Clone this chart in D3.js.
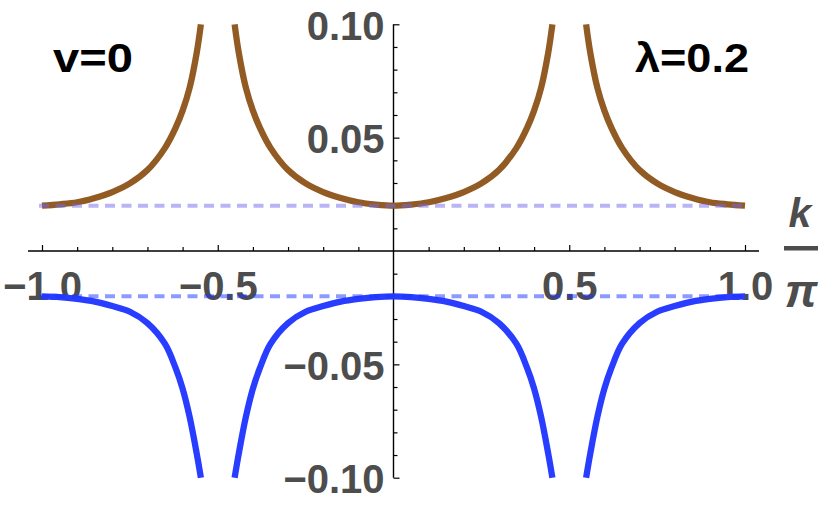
<!DOCTYPE html>
<html>
<head>
<meta charset="utf-8">
<script src="https://cdn.jsdelivr.net/npm/d3@7"></script>
<style>
  body { margin: 0; background: #fff; }
  text { font-family: "Liberation Sans", Arial, sans-serif; font-weight: bold; }
</style>
</head>
<body>
<div id="chart"></div>
<script>
// k/pi sample positions (null marks where the band leaves the plot range)
const kValues = [-1, -0.95, -0.9, -0.85, -0.8, -0.75, -0.7, -0.65, -0.62, -0.6, -0.58, -0.56, -0.548, -0.5,
    -0.452, -0.44, -0.42, -0.4, -0.38, -0.35, -0.3, -0.25, -0.2, -0.15, -0.1, -0.05, 0,
    0.05, 0.1, 0.15, 0.2, 0.25, 0.3, 0.35, 0.38, 0.4, 0.42, 0.44, 0.452, 0.5,
    0.548, 0.56, 0.58, 0.6, 0.62, 0.65, 0.7, 0.75, 0.8, 0.85, 0.9, 0.95, 1];

const upperBand = [0.0200, 0.0206, 0.0215, 0.0234, 0.0260, 0.0298, 0.0357, 0.0455, 0.0543, 0.0619, 0.0720, 0.0873, 0.1000, null,
    0.1000, 0.0873, 0.0720, 0.0619, 0.0543, 0.0455, 0.0357, 0.0298, 0.0260, 0.0234, 0.0215, 0.0205, 0.0200,
    0.0205, 0.0215, 0.0234, 0.0260, 0.0298, 0.0357, 0.0455, 0.0543, 0.0619, 0.0720, 0.0873, 0.1000, null,
    0.1000, 0.0873, 0.0720, 0.0619, 0.0543, 0.0455, 0.0357, 0.0298, 0.0260, 0.0234, 0.0215, 0.0206, 0.0200];

const lowerBand = [-0.0200, -0.0203, -0.0211, -0.0223, -0.0243, -0.0268, -0.0318, -0.0410, -0.0516, -0.0607, -0.0732, -0.0892, -0.1000, null,
    -0.1000, -0.0892, -0.0732, -0.0607, -0.0516, -0.0410, -0.0318, -0.0268, -0.0243, -0.0223, -0.0211, -0.0203, -0.0200,
    -0.0203, -0.0211, -0.0223, -0.0243, -0.0268, -0.0318, -0.0410, -0.0516, -0.0607, -0.0732, -0.0892, -0.1000, null,
    -0.1000, -0.0892, -0.0732, -0.0607, -0.0516, -0.0410, -0.0318, -0.0268, -0.0243, -0.0223, -0.0211, -0.0203, -0.0200];

// dashed gap-edge levels
const gapLevels = [0.02, -0.02];

// ticks
const xMajorTicks = [-1, -0.5, 0.5, 1];
const xMinorTicks = [-0.9, -0.8, -0.7, -0.6, -0.4, -0.3, -0.2, -0.1, 0.1, 0.2, 0.3, 0.4, 0.6, 0.7, 0.8, 0.9];
const yMajorTicks = [-0.1, -0.05, 0.05, 0.1];
const yMinorTicks = [-0.09, -0.08, -0.07, -0.06, -0.04, -0.03, -0.02, -0.01, 0.01, 0.02, 0.03, 0.04, 0.06, 0.07, 0.08, 0.09];

const width = 830, height = 506;

const svg = d3.select("#chart")
    .append("svg")
    .attr("width", width)
    .attr("height", height);

const xScale = d3.scaleLinear().domain([-1, 1]).range([42, 745]);
const yScale = d3.scaleLinear().domain([-0.1, 0.1]).range([477.7, 24.3]);

const axisColor = "#000";
const labelColor = "#4d4d4d";

// x axis (ticks point up, labels below)
const xAxisG = svg.append("g")
    .attr("transform", "translate(0," + yScale(0) + ")");

xAxisG.append("g")
    .call(d3.axisTop(xScale).tickValues(xMinorTicks).tickSize(4).tickFormat(""))
    .call(g => g.select(".domain").remove());

xAxisG.append("g")
    .call(d3.axisTop(xScale).tickValues(xMajorTicks).tickSize(6).tickFormat(d3.format(".1f")))
    .call(g => g.select(".domain").remove())
    .call(g => g.selectAll("text")
        .attr("y", 49)
        .attr("dy", 0)
        .attr("fill", labelColor)
        .style("font-size", "40px")
        .style("font-family", "Liberation Sans, Arial, sans-serif")
        .style("font-weight", "bold"));

xAxisG.append("line")
    .attr("x1", 28)
    .attr("x2", 759)
    .attr("stroke", axisColor)
    .attr("stroke-width", 1.4);

// y axis (ticks point right, labels on the left)
const yAxisG = svg.append("g")
    .attr("transform", "translate(" + xScale(0) + ",0)");

yAxisG.append("g")
    .call(d3.axisRight(yScale).tickValues(yMinorTicks).tickSize(4).tickFormat(""))
    .call(g => g.select(".domain").remove());

yAxisG.append("g")
    .call(d3.axisRight(yScale).tickValues(yMajorTicks).tickSize(6).tickFormat(d3.format(".2f")))
    .call(g => g.select(".domain").remove())
    .call(g => g.selectAll("text")
        .attr("x", -9)
        .attr("dy", 15)
        .attr("text-anchor", "end")
        .attr("fill", labelColor)
        .style("font-size", "40px")
        .style("font-family", "Liberation Sans, Arial, sans-serif")
        .style("font-weight", "bold"));

yAxisG.append("line")
    .attr("y1", yScale(0.1))
    .attr("y2", yScale(-0.1))
    .attr("stroke", axisColor)
    .attr("stroke-width", 1.4);

svg.selectAll(".tick line").attr("stroke", axisColor).attr("stroke-width", 1.2);

// axis label k / pi
svg.append("text")
    .attr("x", 800)
    .attr("y", 227)
    .attr("text-anchor", "middle")
    .attr("fill", labelColor)
    .style("font-size", "41px")
    .style("font-style", "italic")
    .text("k");

svg.append("line")
    .attr("x1", 784)
    .attr("x2", 818)
    .attr("y1", 248.3)
    .attr("y2", 248.3)
    .attr("stroke", labelColor)
    .attr("stroke-width", 4.5);

svg.append("text")
    .attr("x", 801)
    .attr("y", 306.5)
    .attr("text-anchor", "middle")
    .attr("fill", labelColor)
    .style("font-size", "46px")
    .style("font-style", "italic")
    .text("π");

// band curves
const line = d3.line()
    .defined(d => d[1] !== null)
    .x(d => xScale(d[0]))
    .y(d => yScale(d[1]))
    .curve(d3.curveCatmullRom.alpha(0.5));

svg.append("path")
    .datum(kValues.map((k, i) => [k, upperBand[i]]))
    .attr("d", line)
    .attr("fill", "none")
    .attr("stroke", "#915b23")
    .attr("stroke-width", 6.3);

svg.append("path")
    .datum(kValues.map((k, i) => [k, lowerBand[i]]))
    .attr("d", line)
    .attr("fill", "none")
    .attr("stroke", "#283dff")
    .attr("stroke-width", 6.3);

// dashed gap lines
const dashColors = ["#7369eb", "#1a33ff"];
svg.selectAll(".gap-line")
    .data(gapLevels)
    .enter()
    .append("line")
    .attr("class", "gap-line")
    .attr("x1", xScale(-1) - 3)
    .attr("x2", xScale(1) + 3)
    .attr("y1", d => yScale(d))
    .attr("y2", d => yScale(d))
    .attr("stroke", (d, i) => dashColors[i])
    .attr("stroke-opacity", 0.5)
    .attr("stroke-width", 4)
    .attr("stroke-dasharray", "10,6.5");

// parameter labels
svg.append("text")
    .attr("transform", "translate(53,72) scale(1.15,1)")
    .attr("fill", "#000")
    .style("font-size", "41px")
    .text("v=0");

svg.append("text")
    .attr("transform", "translate(749,72) scale(1.1,1)")
    .attr("text-anchor", "end")
    .attr("fill", "#000")
    .style("font-size", "41px")
    .text("λ=0.2");
</script>
</body>
</html>
